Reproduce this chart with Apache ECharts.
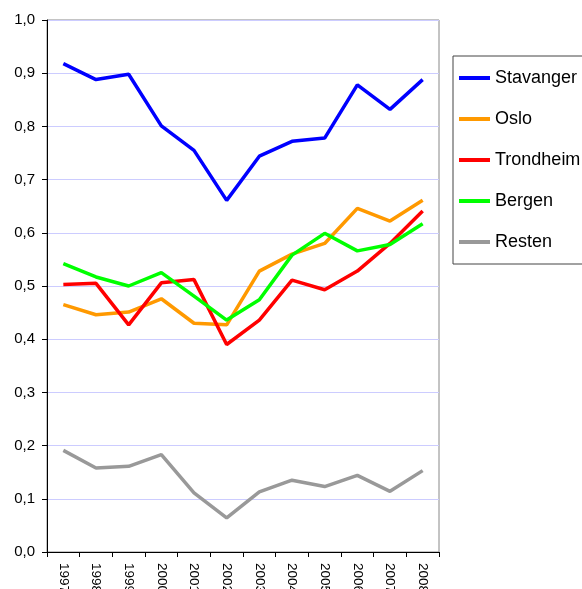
<!DOCTYPE html>
<html>
<head>
<meta charset="utf-8">
<script src="https://cdn.jsdelivr.net/npm/echarts@6/dist/echarts.min.js"></script>
<style>
  html, body { margin: 0; padding: 0; background: #fff; overflow: hidden; }
  /* taller than the window so the year labels run off the bottom edge */
  #main { width: 582px; height: 620px; }
</style>
</head>
<body>
<div id="main"></div>
<script>
const years = ['1997', '1998', '1999', '2000', '2001', '2002', '2003', '2004', '2005', '2006', '2007', '2008']
const stavanger = [0.918, 0.888, 0.898, 0.801, 0.755, 0.661, 0.744, 0.772, 0.778, 0.878, 0.832, 0.888]
const oslo = [0.465, 0.446, 0.451, 0.476, 0.430, 0.427, 0.528, 0.560, 0.580, 0.646, 0.622, 0.661]
const trondheim = [0.503, 0.505, 0.427, 0.506, 0.512, 0.390, 0.436, 0.511, 0.493, 0.528, 0.580, 0.641]
const bergen = [0.542, 0.517, 0.500, 0.525, 0.481, 0.436, 0.474, 0.558, 0.599, 0.566, 0.578, 0.617]
const resten = [0.191, 0.158, 0.161, 0.183, 0.111, 0.064, 0.113, 0.135, 0.123, 0.144, 0.114, 0.153]

const font = 'Liberation Sans, Arial, sans-serif'

function line (name, values, color) {
  return {
    name: name,
    type: 'line',
    data: values,
    symbol: 'none',
    lineStyle: { color: color, width: 3.5 },
    itemStyle: { color: color },
    animation: false
  }
}

const myChart = echarts.init(document.getElementById('main'), null, { renderer: 'canvas' })
const option = {
  backgroundColor: '#fff',
  grid: {
    left: 47,
    right: 143,
    top: 20,
    bottom: 68,
    containLabel: false,
    outerBoundsMode: 'none',
    show: true,
    borderColor: '#888',
    borderWidth: 1
  },
  legend: {
    orient: 'vertical',
    left: 453,
    top: 56,
    width: 200,
    padding: [13, 60, 13, 6],
    itemGap: 23,
    itemWidth: 31,
    itemHeight: 4,
    icon: 'rect',
    borderColor: '#444',
    borderWidth: 1,
    textStyle: { fontFamily: font, fontSize: 18, color: '#000' },
    data: ['Stavanger', 'Oslo', 'Trondheim', 'Bergen', 'Resten']
  },
  xAxis: {
    type: 'category',
    data: years,
    boundaryGap: true,
    axisLine: { lineStyle: { color: '#000', width: 1 } },
    axisTick: { show: true, length: 5, lineStyle: { color: '#000' } },
    axisLabel: {
      rotate: -90,
      margin: 11,
      fontFamily: font,
      fontSize: 13.5,
      color: '#000'
    },
    splitLine: { show: false }
  },
  yAxis: {
    type: 'value',
    min: 0,
    max: 1,
    interval: 0.1,
    axisLine: { show: true, lineStyle: { color: '#000', width: 1 } },
    axisTick: { show: true, length: 5, lineStyle: { color: '#000' } },
    axisLabel: {
      margin: 12,
      fontFamily: font,
      fontSize: 15,
      color: '#000',
      formatter: v => v.toFixed(1).replace('.', ',')
    },
    splitLine: { show: true, lineStyle: { color: '#ccccff', width: 1 } }
  },
  series: [
    line('Stavanger', stavanger, '#0000ff'),
    line('Oslo', oslo, '#ff9900'),
    line('Trondheim', trondheim, '#ff0000'),
    line('Bergen', bergen, '#00ff00'),
    line('Resten', resten, '#999999')
  ]
}
myChart.setOption(option)
</script>
</body>
</html>
